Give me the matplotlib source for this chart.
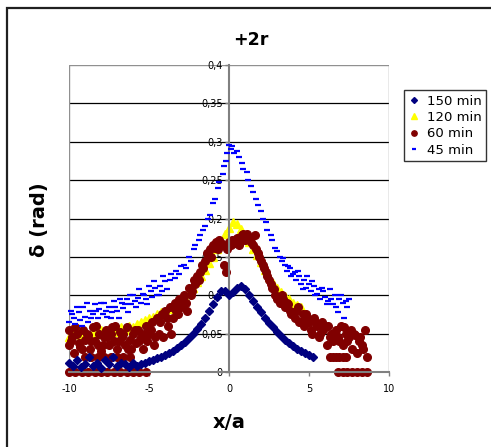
import matplotlib
matplotlib.use("Agg")
import matplotlib.pyplot as plt
from matplotlib.patches import Rectangle

# --- data ---
x_150 = [-10, -9.75, -9.5, -9.25, -9, -8.75, -8.5, -8.25, -8, -7.75,
         -7.5, -7.25, -7, -6.75, -6.5, -6.25, -6, -5.75, -5.5, -5.25,
         -5, -4.75, -4.5, -4.25, -4, -3.75, -3.5, -3.25, -3, -2.75,
         -2.5, -2.25, -2, -1.75, -1.5, -1.25, -1, -0.75, -0.5, -0.25,
         0, 0.25, 0.5, 0.75, 1, 1.25, 1.5, 1.75, 2, 2.25,
         2.5, 2.75, 3, 3.25, 3.5, 3.75, 4, 4.25, 4.5, 4.75,
         5, 5.25]
y_150 = [0.012, 0.008, 0.015, 0.006, 0.01, 0.02, 0.008, 0.012, 0.005, 0.015,
         0.01, 0.02, 0.008, 0.012, 0.01, 0.006, 0.012, 0.008, 0.01, 0.012,
         0.014, 0.016, 0.018, 0.02, 0.022, 0.025, 0.028, 0.031, 0.035, 0.039,
         0.044, 0.05, 0.056, 0.063, 0.071, 0.08, 0.089, 0.098, 0.105, 0.105,
         0.1, 0.104, 0.109, 0.112, 0.108, 0.1, 0.092, 0.085, 0.078, 0.071,
         0.064, 0.058, 0.052, 0.047, 0.042, 0.038, 0.034, 0.03, 0.027, 0.025,
         0.022, 0.02]

x_120 = [-10, -9.75, -9.5, -9.25, -9, -8.75, -8.5, -8.25, -8, -7.75,
         -7.5, -7.25, -7, -6.75, -6.5, -6.25, -6, -5.75, -5.5, -5.25,
         -5, -4.75, -4.5, -4.25, -4, -3.75, -3.5, -3.25, -3, -2.75,
         -2.5, -2.25, -2, -1.75, -1.5, -1.25, -1, -0.75, -0.5, -0.25,
         0, 0.25, 0.5, 0.75, 1, 1.25, 1.5, 1.75, 2, 2.25,
         2.5, 2.75, 3, 3.25, 3.5, 3.75, 4, 4.25, 4.5]
y_120 = [0.045, 0.05, 0.052, 0.048, 0.05, 0.047, 0.052, 0.05, 0.055, 0.05,
         0.053, 0.055, 0.052, 0.058, 0.055, 0.06, 0.058, 0.062, 0.065, 0.068,
         0.07, 0.072, 0.075, 0.078, 0.08, 0.082, 0.085, 0.088, 0.092, 0.097,
         0.103, 0.11, 0.117, 0.125, 0.133, 0.142, 0.15, 0.16, 0.17, 0.18,
         0.188, 0.195, 0.193, 0.186, 0.178, 0.17, 0.16, 0.152, 0.143, 0.133,
         0.124, 0.116, 0.11, 0.104, 0.099, 0.095, 0.09, 0.087, 0.085]

x_60 = [-10, -10, -9.8, -9.7, -9.5, -9.4, -9.2, -9.1, -9, -8.8,
        -8.7, -8.5, -8.4, -8.2, -8.1, -8, -7.8, -7.7, -7.5, -7.4,
        -7.2, -7.1, -7, -6.8, -6.7, -6.5, -6.4, -6.2, -6.1, -6,
        -5.8, -5.7, -5.5, -5.4, -5.2, -5.1, -5, -4.8, -4.7, -4.5,
        -4.4, -4.2, -4.1, -4, -3.8, -3.7, -3.5, -3.4, -3.2, -3.1,
        -3, -2.8, -2.7, -2.5, -2.4, -2.2, -2.1, -2, -1.8, -1.7,
        -1.5, -1.4, -1.2, -1.1, -1, -0.8, -0.7, -0.5, -0.4, -0.3,
        -0.2, -0.1, 0, 0.1, 0.2, 0.4, 0.5, 0.7, 0.8, 1,
        1.1, 1.3, 1.4, 1.6, 1.7, 1.9, 2, 2.2, 2.3, 2.5,
        2.6, 2.8, 2.9, 3.1, 3.2, 3.4, 3.5, 3.7, 3.8, 4,
        4.1, 4.3, 4.4, 4.6, 4.7, 4.9, 5, 5.2, 5.3, 5.5,
        5.6, 5.8, 5.9, 6.1, 6.2, 6.4, 6.5, 6.7, 6.8, 7,
        7.1, 7.3, 7.4, 7.6, 7.7, 7.9, 8, 8.2, 8.3, 8.5,
        -9.9, -9.6, -9.3, -8.9, -8.6, -8.3, -7.9, -7.6, -7.3, -6.9,
        -6.6, -6.3, -5.9, -5.6, -5.3, -4.9, -4.6, -4.3, -3.9, -3.6,
        -3.3, -2.9, -2.6, -2.3, -1.9, -1.6, -1.3, -0.9, -0.6, 0.3,
        0.6, 0.9, 1.2, 1.5, 1.8, 2.1, 2.4, 2.7, 3, 3.3,
        3.6, 3.9, 4.2, 4.5, 4.8, 5.1, 5.4, 5.7, 6, 6.3,
        6.6, 6.9, 7.2, 7.5, 7.8, 8.1, 8.4]
y_60 = [0.055, 0.035, 0.045, 0.025, 0.05, 0.038, 0.03, 0.055, 0.042, 0.048,
        0.03, 0.058, 0.04, 0.035, 0.05, 0.028, 0.045, 0.055, 0.035, 0.05,
        0.04, 0.06, 0.03, 0.052, 0.045, 0.035, 0.058, 0.042, 0.03, 0.05,
        0.038, 0.055, 0.045, 0.03, 0.06, 0.04, 0.05, 0.065, 0.035, 0.07,
        0.05, 0.075, 0.045, 0.08, 0.06, 0.085, 0.07, 0.09, 0.075, 0.095,
        0.085, 0.1, 0.09, 0.11, 0.1, 0.12, 0.115, 0.125, 0.13, 0.14,
        0.145, 0.155, 0.16, 0.15, 0.165, 0.17, 0.16, 0.168, 0.165, 0.14,
        0.13, 0.16, 0.17, 0.165, 0.172, 0.168, 0.175, 0.17, 0.178, 0.172,
        0.18, 0.175, 0.17, 0.178, 0.16, 0.15, 0.145, 0.135, 0.13, 0.12,
        0.115, 0.108, 0.1, 0.098, 0.09, 0.095, 0.085, 0.088, 0.08, 0.078,
        0.07, 0.085, 0.065, 0.075, 0.06, 0.07, 0.065, 0.05, 0.07, 0.06,
        0.045, 0.065, 0.055, 0.035, 0.06, 0.05, 0.04, 0.055, 0.045, 0.06,
        0.035, 0.05, 0.04, 0.055, 0.03, 0.048, 0.025, 0.045, 0.035, 0.055,
        0.04, 0.058, 0.032, 0.05, 0.04, 0.06, 0.035, 0.045, 0.058, 0.04,
        0.05, 0.03, 0.055, 0.04, 0.05, 0.055, 0.045, 0.065, 0.07, 0.05,
        0.08, 0.095, 0.08, 0.105, 0.12, 0.135, 0.15, 0.162, 0.172, 0.17,
        0.165, 0.18, 0.176, 0.165, 0.155, 0.14, 0.125, 0.11, 0.095, 0.1,
        0.09, 0.075, 0.08, 0.065, 0.075, 0.055, 0.065, 0.05, 0.06, 0.045,
        0.05, 0.04, 0.058, 0.045, 0.05, 0.04, 0.03]
# 60 min points on the low rows (0.02 and 0)
x_60_low = [-9, -8.6, -8.2, -7.8, -7.4, -7, -6.6, -6.2, 6.3, 6.5, 6.7, 6.9, 7.1, 7.3, 8.6]
y_60_low = [0.02, 0.02, 0.02, 0.02, 0.02, 0.02, 0.02, 0.02, 0.02, 0.02, 0.02, 0.02, 0.02, 0.02, 0.02]
x_60_zero = [-10, -9.6, -9.2, -8.8, -8.4, -8, -7.6, -7.2, -6.8, -6.4, -6, -5.6, -5.2,
             6.8, 7.1, 7.4, 7.7, 8, 8.3, 8.6]
y_60_zero = [0, 0, 0, 0, 0, 0, 0, 0, 0, 0, 0, 0, 0,
             0, 0, 0, 0, 0, 0, 0]

x_45 = [-10, -9.9, -9.7, -9.6, -9.4, -9.3, -9.1, -9, -8.8, -8.7,
        -8.5, -8.4, -8.2, -8.1, -7.9, -7.8, -7.6, -7.5, -7.3, -7.2,
        -7, -6.9, -6.7, -6.6, -6.4, -6.3, -6.1, -6, -5.8, -5.7,
        -5.5, -5.4, -5.2, -5.1, -4.9, -4.8, -4.6, -4.5, -4.3, -4.2,
        -4, -3.9, -3.7, -3.6, -3.4, -3.3, -3.1, -3, -2.8, -2.7,
        -2.5, -2.4, -2.2, -2.1, -1.9, -1.8, -1.6, -1.5, -1.3, -1.2,
        -1, -0.9, -0.7, -0.6, -0.4, -0.3, -0.2, -0.1, 0, 0.1,
        0.2, 0.3, 0.5, 0.6, 0.8, 0.9, 1.1, 1.2, 1.4, 1.5,
        1.7, 1.8, 2, 2.1, 2.3, 2.4, 2.6, 2.7, 2.9, 3,
        3.2, 3.3, 3.5, 3.6, 3.8, 3.9, 4.1, 4.2, 4.4, 4.5,
        4.7, 4.8, 5, 5.1, 5.3, 5.4, 5.6, 5.7, 5.9, 6,
        6.2, 6.3, 6.5, 6.6, 6.8, 6.9, 7.1, 7.2, 7.4, 7.5,
        -9.8, -9.5, -9.2, -8.9, -8.6, -8.3, -8, -7.7, -7.4, -7.1,
        -6.8, -6.5, -6.2, -5.9, -5.6, -5.3, -5, -4.7, -4.4, -4.1,
        3.4, 3.7, 4, 4.3, 4.6, 4.9, 5.2, 5.5, 5.8, 6.1,
        6.4, 6.7, 7, 7.3]
y_45 = [0.065, 0.08, 0.07, 0.062, 0.078, 0.068, 0.085, 0.072, 0.065, 0.08,
        0.075, 0.088, 0.07, 0.082, 0.076, 0.09, 0.072, 0.085, 0.078, 0.092,
        0.08, 0.07, 0.09, 0.083, 0.095, 0.078, 0.088, 0.1, 0.085, 0.096,
        0.09, 0.102, 0.095, 0.088, 0.105, 0.098, 0.11, 0.1, 0.112, 0.105,
        0.118, 0.108, 0.12, 0.128, 0.122, 0.132, 0.128, 0.138, 0.14, 0.135,
        0.15, 0.145, 0.16, 0.165, 0.172, 0.178, 0.185, 0.19, 0.2, 0.205,
        0.22, 0.225, 0.24, 0.248, 0.258, 0.268, 0.275, 0.285, 0.296, 0.29,
        0.295, 0.285, 0.288, 0.28, 0.272, 0.265, 0.26, 0.25, 0.242, 0.235,
        0.225, 0.218, 0.21, 0.2, 0.195, 0.185, 0.178, 0.172, 0.162, 0.158,
        0.15, 0.145, 0.14, 0.132, 0.135, 0.125, 0.13, 0.12, 0.125, 0.115,
        0.12, 0.11, 0.115, 0.105, 0.112, 0.1, 0.108, 0.095, 0.105, 0.098,
        0.092, 0.108, 0.088, 0.1, 0.078, 0.095, 0.09, 0.07, 0.085, 0.095,
        0.075, 0.085, 0.06, 0.09, 0.07, 0.08, 0.09, 0.08, 0.07, 0.085,
        0.095, 0.088, 0.1, 0.092, 0.108, 0.1, 0.112, 0.118, 0.1, 0.125,
        0.148, 0.138, 0.128, 0.132, 0.108, 0.125, 0.118, 0.102, 0.11, 0.088,
        0.095, 0.085, 0.1, 0.092]

x_ticks = [-10, -5, 0, 5, 10]
y_ticks = [0, 0.05, 0.1, 0.15, 0.2, 0.25, 0.3, 0.35, 0.4]
y_tick_labels = ["0", "0,05", "0,1", "0,15", "0,2", "0,25", "0,3", "0,35", "0,4"]

W, H = 491, 447
fig = plt.figure(figsize=(W / 100, H / 100), dpi=100)
ax = fig.add_axes([69 / W, 1 - 372 / H, 320 / W, 307 / H])

# chart area border (left and top visible)
fig.add_artist(Rectangle((7 / W, -0.05), 1.0, 1 - 8 / H + 0.05, transform=fig.transFigure,
                         fill=False, edgecolor="#202020", linewidth=1.6))

for yv in y_ticks[1:-1]:
    ax.axhline(yv, color="black", linewidth=0.9, zorder=0)

ax.plot(x_150, y_150, linestyle="none", marker="D", markersize=4.3, color="#000080",
        clip_on=False, zorder=3, label="150 min")
ax.plot(x_120, y_120, linestyle="none", marker="^", markersize=5.5, color="#ffff00",
        clip_on=False, zorder=2, label="120 min")
ax.plot(x_60 + x_60_low + x_60_zero, y_60 + y_60_low + y_60_zero, linestyle="none",
        marker="o", markersize=5.5, color="#800000", clip_on=False, zorder=2.5, label="60 min")
ax.plot(x_45, y_45, linestyle="none", marker="_", markersize=4, markeredgewidth=1.6,
        color="#0000ff", clip_on=False, zorder=4, label="45 min")

ax.set_xlim(-10, 10)
ax.set_ylim(0, 0.4)
ax.set_xticks(x_ticks)
ax.set_xticklabels([str(v) for v in x_ticks])
ax.set_yticks(y_ticks)
ax.set_yticklabels(y_tick_labels)

ax.spines["left"].set_position(("data", 0))
for side in ["top", "right"]:
    ax.spines[side].set_visible(False)
ax.spines["left"].set_color("#808080")
ax.spines["left"].set_linewidth(1.5)
ax.spines["bottom"].set_color("#808080")
ax.spines["bottom"].set_linewidth(1.5)
ax.add_patch(Rectangle((0, 0), 1, 1, transform=ax.transAxes, fill=False,
                       edgecolor="#909090", linewidth=1.0, zorder=0.5))
ax.tick_params(axis="both", colors="#808080", labelcolor="black", labelsize=7,
               length=3, width=1, direction="out", pad=1.5)
ax.tick_params(axis="x", pad=6)

fig.text(251 / W, 1 - 40 / H, "+2r", ha="center", va="center", fontsize=12.5, fontweight="bold")
fig.text(40 / W, 1 - 220 / H, "δ (rad)", ha="center", va="center", rotation=90,
         fontsize=14, fontweight="bold")
fig.text(229 / W, 1 - 422 / H, "x/a", ha="center", va="center", fontsize=14, fontweight="bold")

leg = fig.legend(loc="upper left", bbox_to_anchor=(404 / W, 1 - 90 / H), fontsize=9.5,
                 frameon=True, fancybox=False, edgecolor="black", handlelength=0.8,
                 handletextpad=0.6, borderpad=0.35, labelspacing=0.25, borderaxespad=0,
                 markerscale=0.7)
leg.get_frame().set_linewidth(1.0)

fig.savefig("out.png", dpi=100)
